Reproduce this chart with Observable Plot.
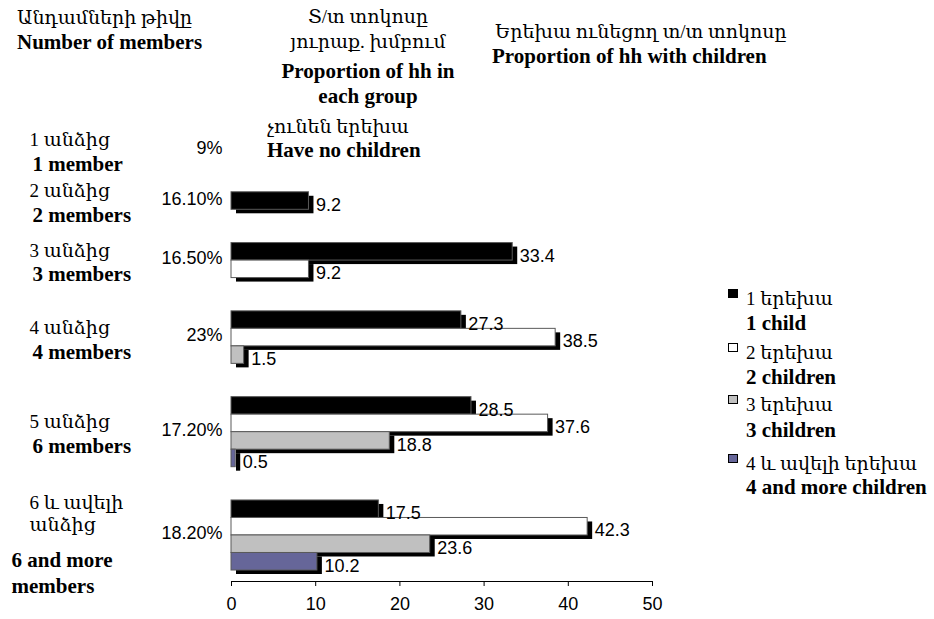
<!DOCTYPE html>
<html>
<head>
<meta charset="utf-8">
<script src="https://cdn.jsdelivr.net/npm/d3@7"></script>
<script src="https://cdn.jsdelivr.net/npm/@observablehq/plot@0.6"></script>
<style>
  html, body { margin: 0; padding: 0; background: #fff; }
  #wrap { position: relative; width: 934px; height: 619px; overflow: hidden; }
  .t { position: absolute; white-space: nowrap; height: 24px; line-height: 24px; color: #000;
       font-family: 'Liberation Serif', 'Times New Roman', Times, Tinos, 'DejaVu Serif', 'Noto Serif', serif; font-size: 21px; }
  .hy { font-size: 19px; font-weight: normal; }
  .en { font-weight: bold; }
  .c { transform: translateX(-50%); }
  .sw { position: absolute; width: 8px; height: 7px; border: 1.5px solid #000; }
</style>
</head>
<body>
<div id="wrap"></div>
<script>
// ---- data ----
const groupsHy = ["1 անձից", "2 անձից", "3 անձից", "4 անձից", "5 անձից", "6 և ավելի\nանձից"];
const groupsEn = ["1 member", "2 members", "3 members", "4 members", "6 members", "6 and more\nmembers"];
const shares = ["9%", "16.10%", "16.50%", "23%", "17.20%", "18.20%"];
const seriesHy = ["1 երեխա", "2 երեխա", "3 երեխա", "4 և ավելի երեխա"];
const seriesEn = ["1 child", "2 children", "3 children", "4 and more children"];
const oneChild      = [null, 9.2, 33.4, 27.3, 28.5, 17.5];
const twoChildren   = [null, null, 9.2, 38.5, 37.6, 42.3];
const threeChildren = [null, null, null, 1.5, 18.8, 23.6];
const fourPlus      = [null, null, null, null, 0.5, 10.2];
const xTicks = [0, 10, 20, 30, 40, 50];

const seriesValues = [oneChild, twoChildren, threeChildren, fourPlus];
const colors = ["#000000", "#ffffff", "#c0c0c0", "#666699"];

// ---- layout in bar-slot units (computed from the data) ----
const GAP = 1.9;
const groupInfo = [];
let s = 0;
groupsEn.forEach((g, i) => {
  if (i > 0) s += GAP;
  const n = seriesValues.filter(v => v[i] != null).length;
  const len = Math.max(n, 1);
  groupInfo.push({i, hy: groupsHy[i], en: groupsEn[i], share: shares[i], start: s, len, center: s + len / 2});
  s += len;
});
const totalSlots = s;

const rows = [];
groupInfo.forEach(g => {
  let k = 0;
  seriesValues.forEach((vals, j) => {
    const v = vals[g.i];
    if (v != null) {
      rows.push({series: seriesEn[j], value: v, y1: g.start + k, y2: g.start + k + 1});
      k++;
    }
  });
});

const serif = "'Liberation Serif', 'Times New Roman', Times, Tinos, 'DejaVu Serif', 'Noto Serif', serif";

const chart = Plot.plot({
  width: 934,
  height: 619,
  marginLeft: 231,
  marginRight: 282,
  marginTop: 141,
  marginBottom: 38,
  insetBottom: 11,
  style: {fontFamily: "'Liberation Sans', Arial, sans-serif", fontSize: "18px", color: "#000", background: "#fff", overflow: "visible"},
  x: {domain: [0, 50], axis: null, label: null},
  y: {domain: [0, totalSlots], reverse: true, axis: null},
  color: {domain: seriesEn, range: colors},
  marks: [
    Plot.axisX({ticks: xTicks, tickSize: 5, tickPadding: 11, tickFormat: d => String(d), fontSize: 18, label: null}),
    Plot.frame({anchor: "bottom", stroke: "#000"}),
    // shadows
    Plot.rect(rows, {x1: 0, x2: "value", y1: "y1", y2: "y2", fill: "#000", dx: 5, dy: 4}),
    // bars
    Plot.rect(rows, {x1: 0, x2: "value", y1: "y1", y2: "y2", fill: "series", stroke: "#5a5a5a", strokeWidth: 1}),
    // value labels
    Plot.text(rows, {x: "value", y: d => (d.y1 + d.y2) / 2, text: d => String(d.value), textAnchor: "start", dx: 7, dy: 4, fontSize: 18}),
    // share labels
    Plot.text(groupInfo, {y: d => d.center, text: "share", frameAnchor: "left", textAnchor: "end", dx: -9, dy: -2, fontSize: 18}),
    // group labels (Armenian)
    Plot.text(groupInfo, {y: d => d.center, text: "hy", frameAnchor: "left", textAnchor: "start", lineAnchor: "bottom", dx: -202, dy: -4, fontFamily: serif, fontSize: 19, lineHeight: 1.2}),
    // group labels (English)
    Plot.text(groupInfo.filter(d => !d.en.includes("\n")), {y: d => d.center, text: "en", frameAnchor: "left", textAnchor: "start", lineAnchor: "top", dx: -199, dy: 6, fontFamily: serif, fontSize: 21, fontWeight: "bold"}),
    Plot.text(groupInfo.filter(d => d.en.includes("\n")), {y: d => d.center, text: "en", frameAnchor: "left", textAnchor: "start", lineAnchor: "top", dx: -220, dy: 14, fontFamily: serif, fontSize: 21, fontWeight: "bold", lineHeight: 1.2})
  ]
});

const wrap = document.getElementById("wrap");
wrap.appendChild(chart);

function place(text, x, yc, cls) {
  const d = document.createElement("div");
  d.className = "t " + cls;
  d.textContent = text;
  d.style.left = x + "px";
  d.style.top = (yc - 12) + "px";
  wrap.appendChild(d);
  return d;
}

// headers
place("Անդամների թիվը", 17, 18, "hy");
place("Number of members", 17, 42, "en");
place("Տ/տ տոկոսը", 368, 17, "hy c");
place("յուրաք. խմբում", 368, 42, "hy c");
place("Proportion of hh in", 368, 71, "en c");
place("each group", 368, 96, "en c");
place("չունեն երեխա", 267, 127, "hy");
place("Have no children", 267, 150, "en");
place("Երեխա ունեցող տ/տ տոկոսը", 495, 32, "hy");
place("Proportion of hh with children", 492, 56, "en");

// legend
const legendY = [[299, 323], [353, 377], [405, 430], [464, 487]];
seriesEn.forEach((name, j) => {
  const sw = document.createElement("div");
  sw.className = "sw";
  sw.style.left = "728px";
  sw.style.top = (legendY[j][0] - 10) + "px";
  sw.style.background = colors[j];
  wrap.appendChild(sw);
  place(seriesHy[j], 746, legendY[j][0], "hy");
  place(name, 746, legendY[j][1], "en");
});
</script>
</body>
</html>
